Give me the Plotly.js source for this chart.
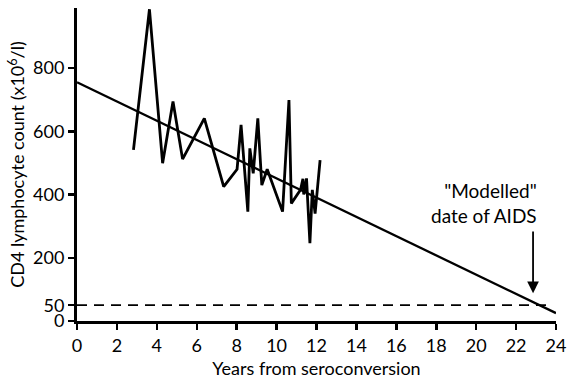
<!DOCTYPE html>
<html>
<head>
<meta charset="utf-8">
<script src="https://cdn.plot.ly/plotly-3.0.1.min.js"></script>
<style>html,body{margin:0;padding:0;background:#fff}#chart{width:575px;height:383px}</style>
</head>
<body>
<div id="chart"></div>
<script>
// Observed CD4 counts
var obsYears = [2.83, 3.63, 4.29, 4.81, 5.29, 6.38, 7.35, 8.02, 8.22, 8.56, 8.66, 8.83, 9.06, 9.26, 9.53, 10.30, 10.62, 10.74, 11.20, 11.32, 11.36, 11.50, 11.67, 11.79, 11.93, 12.18];
var obsCD4  = [541, 986, 499, 694, 512, 641, 425, 480, 620, 346, 546, 467, 641, 430, 480, 346, 699, 372, 415, 450, 400, 451, 246, 415, 340, 509];
// Fitted trend line
var fitYears = [0, 24];
var fitCD4 = [755, 25];
// Threshold
var thrYears = [0, 23.5];
var thrCD4 = [50, 50];
var xTicks = [0,2,4,6,8,10,12,14,16,18,20,22,24];
var yTicks = [0,50,200,400,600,800];
var aidsYear = 22.85;

var fam = 'Lato, "Open Sans", sans-serif';

var traces = [
  {x: obsYears, y: obsCD4, mode: 'lines', line: {color: '#000', width: 2.8}, hoverinfo: 'none'},
  {x: fitYears, y: fitCD4, mode: 'lines', line: {color: '#000', width: 2.3}, hoverinfo: 'none'},
  {x: thrYears, y: thrCD4, mode: 'lines', line: {color: '#000', width: 1.8, dash: '10px,7px'}, hoverinfo: 'none'}
];

var layout = {
  width: 575, height: 383,
  margin: {l: 77, r: 19, t: 8, b: 62},
  paper_bgcolor: '#fff', plot_bgcolor: '#fff',
  showlegend: false,
  font: {family: fam, size: 18, color: '#000'},
  xaxis: {
    range: [0, 24], tickvals: xTicks, ticktext: xTicks.map(String),
    showgrid: false, zeroline: false, showline: true, linecolor: '#000', linewidth: 3,
    ticks: 'outside', ticklen: 6, tickwidth: 2.5, tickcolor: '#000',
    tickfont: {family: fam, size: 18, color: '#000'},
    title: {text: 'Years from seroconversion', font: {family: fam, size: 18, color: '#000'}, standoff: 8}
  },
  yaxis: {
    range: [0, 990], tickvals: yTicks, ticktext: yTicks.map(String),
    showgrid: false, zeroline: false, showline: true, linecolor: '#000', linewidth: 3,
    ticks: 'outside', ticklen: 6, tickwidth: 2.5, tickcolor: '#000',
    tickfont: {family: fam, size: 18, color: '#000'},
    title: {text: 'CD4 lymphocyte count (x10<sup>6</sup>/l)', font: {family: fam, size: 18, color: '#000'}, standoff: 4}
  },
  annotations: [
    {x: aidsYear, y: 88, xref: 'x', yref: 'y', ax: aidsYear, ay: 288, axref: 'x', ayref: 'y',
     showarrow: true, arrowhead: 2, arrowsize: 1.3, arrowwidth: 1.8, arrowcolor: '#000', text: ''},
    {x: 23.15, y: 292, xref: 'x', yref: 'y', xanchor: 'right', yanchor: 'bottom', align: 'right',
     showarrow: false, text: '"Modelled"<br>date of AIDS', font: {family: fam, size: 19, color: '#000'}}
  ]
};

Plotly.newPlot('chart', traces, layout, {displayModeBar: false, staticPlot: true});
</script>
</body>
</html>
